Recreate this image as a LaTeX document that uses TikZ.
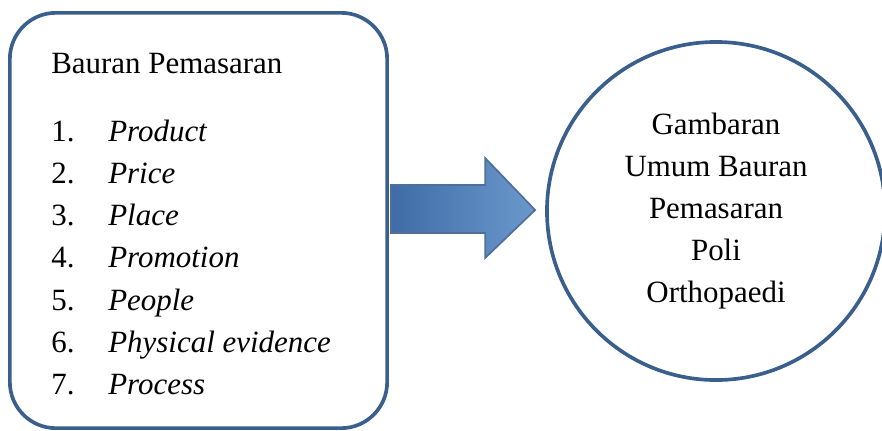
\documentclass[tikz,border=0pt]{standalone}
\usepackage{fontspec}
\setmainfont{Liberation Serif}
\usetikzlibrary{positioning,calc}
\definecolor{cbiru}{HTML}{3B5F8D}
\definecolor{cpanah}{HTML}{3F6CA6}
\definecolor{cpanahterang}{HTML}{6B98CC}
\tikzset{
  kotak/.style={rectangle, rounded corners=1.15cm, draw=cbiru, line width=2.6pt,
    minimum width=9.43cm, minimum height=10.38cm},
  lingkaran/.style={circle, draw=cbiru, line width=2.6pt, minimum size=8.45cm},
  teks/.style={font=\fontsize{22}{30}\selectfont, inner sep=0pt},
  butir/.style={teks, font=\fontsize{22}{30}\selectfont\itshape},
  panah/.style={draw=cbiru!90, line width=1.2pt, left color=cpanah, right color=cpanahterang},
}
\begin{document}
\begin{tikzpicture}[x=0.025cm, y=-0.025cm]
  \useasboundingbox (0,0) rectangle (882,430);
  \node[kotak] (box) at (198.5,220.5) {};
  \node[lingkaran] (circ) at (716,211) {};
  % judul dan daftar bauran
  \node[teks, anchor=base west] (judul) at ($(box.north west)+(43,62)$) {Bauran Pemasaran};
  \foreach \item [count=\i] in {Product, Price, Place, Promotion, People, Physical evidence, Process}{
    \node[teks, anchor=base west] (no\i) at ($(judul.base west)+(0,68+42.3*\i-42.3)$) {\i.};
    \node[butir, anchor=base west] (bauran\i) at ($(no\i.base west)+(57,0)$) {\item};
  }
  \node[teks, align=center] (hasil) at (circ.center) {Gambaran\\Umum Bauran\\Pemasaran\\Poli\\Orthopaedi};
  % panah
  \coordinate (pangkal) at ($(box.east |- circ.west)+(2,-2)$);
  \coordinate (ujung) at ($(circ.west)+(-10,-1)$);
  \draw[panah] ($(pangkal)+(0,-24)$) -- ($(ujung)+(-50,-25)$) -- ($(ujung)+(-50,-52)$) -- (ujung)
    -- ($(ujung)+(-50,48)$) -- ($(ujung)+(-50,23)$) -- ($(pangkal)+(0,24)$) -- cycle;
\end{tikzpicture}
\end{document}
